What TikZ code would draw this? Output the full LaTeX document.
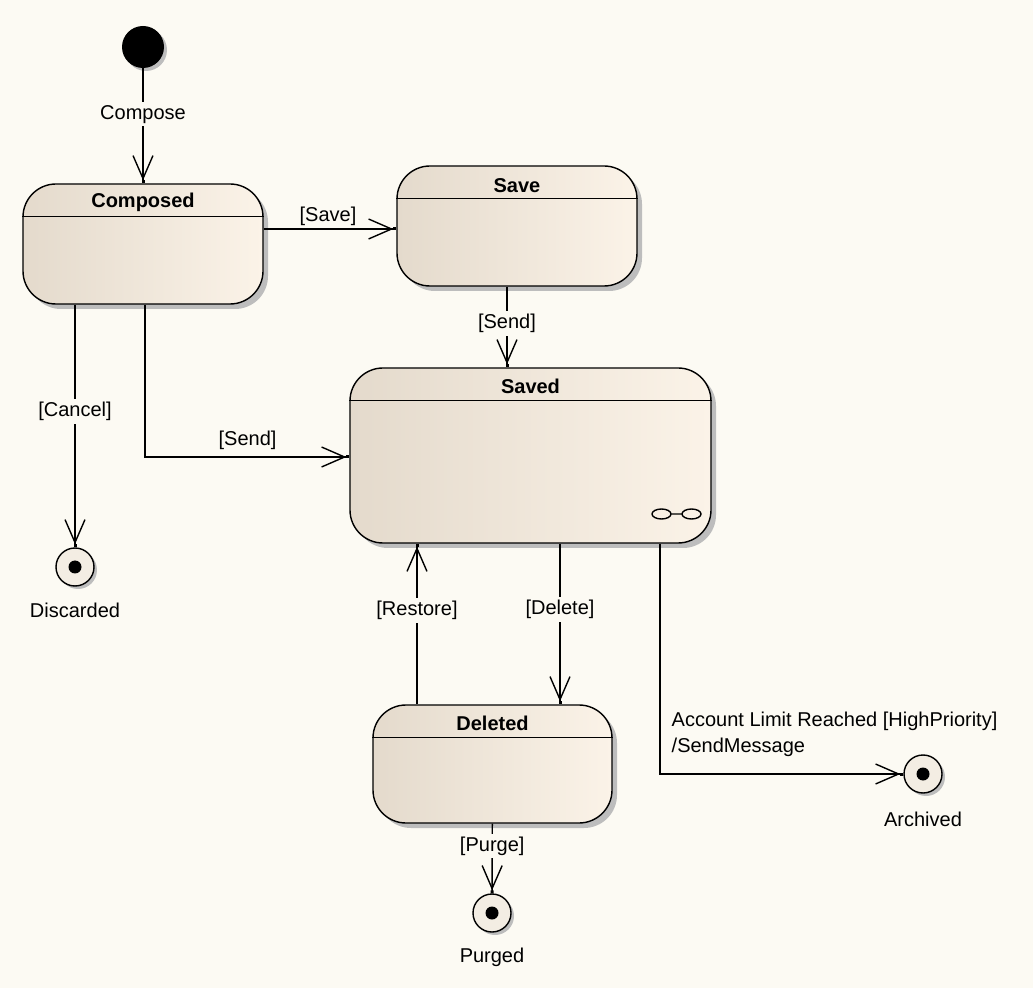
\documentclass[tikz,border=0pt]{standalone}
\usepackage{fontspec}
\setmainfont{Liberation Sans}
\usetikzlibrary{arrows.meta, shadows}
\definecolor{paper}{HTML}{FCFAF3}
\definecolor{stateleft}{HTML}{E4DACC}
\definecolor{stateright}{HTML}{FBF3E8}
\definecolor{finalfill}{HTML}{F3EDE3}
\definecolor{shadowgray}{HTML}{BDBDBD}

\begin{document}
\begin{tikzpicture}[
    x=0.5pt, y=-0.5pt,
    every node/.style={font=\fontsize{10}{13}\selectfont},
    statebox/.style={draw, line width=0.7pt, rounded corners=16.5pt, left color=stateleft, right color=stateright, minimum width=120pt, minimum height=60pt, inner sep=0pt, drop shadow={shadow xshift=2.5pt, shadow yshift=-2.5pt, fill=shadowgray, opacity=1}},
    title/.style={font=\fontsize{10}{12}\selectfont\bfseries, inner sep=0pt},
    startdot/.style={circle, fill=black, minimum size=21pt, inner sep=0pt, drop shadow={shadow xshift=1.5pt, shadow yshift=-1.5pt, fill=shadowgray, opacity=1}},
    enddot/.style={circle, draw, line width=0.7pt, fill=finalfill, minimum size=19pt, inner sep=0pt, drop shadow={shadow xshift=1.5pt, shadow yshift=-1.5pt, fill=shadowgray, opacity=1}, path picture={\fill[black] (path picture bounding box.center) circle (3.25pt);}},
    transition/.style={draw, line width=0.7pt, -{Straight Barb[length=11.5pt, width=10pt] Square[length=1.5pt, width=1.5pt]}},
    guard/.style={fill=paper, inner sep=1.5pt}
]
    \fill[paper] (0,0) rectangle (1033,988);

    \node[startdot] (start) at (143,47) {};
    \node[statebox] (composed) at (143,244) {};
    \node[statebox] (save) at (517,226) {};
    \node[statebox, minimum width=180.5pt, minimum height=87.5pt] (saved) at (530.5,455.5) {};
    \node[statebox, minimum width=119.5pt, minimum height=59pt] (deleted) at (492.5,764) {};

    \draw[line width=0.7pt] ([yshift=-16.5pt]composed.north west) -- ([yshift=-16.5pt]composed.north east);
    \draw[line width=0.7pt] ([yshift=-16.5pt]save.north west) -- ([yshift=-16.5pt]save.north east);
    \draw[line width=0.7pt] ([yshift=-16.5pt]saved.north west) -- ([yshift=-16.5pt]saved.north east);
    \draw[line width=0.7pt] ([yshift=-16.5pt]deleted.north west) -- ([yshift=-16.5pt]deleted.north east);

    \node[title] (composedtitle) at ([yshift=-9.5pt]composed.north) {Composed};
    \node[title] (savetitle) at ([yshift=-10pt]save.north) {Save};
    \node[title] (savedtitle) at ([yshift=-9.5pt]saved.north) {Saved};
    \node[title] (deletedtitle) at ([yshift=-9.5pt]deleted.north) {Deleted};

    \draw[line width=0.7pt] (661.5,514) ellipse [x radius=4.75pt, y radius=2.5pt] (671,514) -- (682,514) (691.5,514) ellipse [x radius=4.75pt, y radius=2.5pt];

    \node[enddot] (discarded) at (75,567) {};
    \node[enddot] (archived) at (923,774) {};
    \node[enddot] (purged) at (492,913) {};
    \node (discardedname) at (75,610) {Discarded};
    \node (archivedname) at (923,819) {Archived};
    \node (purgedname) at (492,957) {Purged};

    \draw[transition] (start) -- node[guard, pos=0.4] (composelabel) {Compose} (composed);
    \draw[transition] ([yshift=-1.5pt]save.west -| composed.east) -- node[pos=0.485, yshift=6.5pt] (savelabel) {[Save]} ([yshift=-1.5pt]save.west);
    \draw[transition] ([xshift=-5pt]save.south) -- node[guard, pos=0.46] (sendlabel) {[Send]} ([xshift=-5pt]save.south |- saved.north);
    \draw[transition] ([xshift=1pt]composed.south) |- node[pos=0.751, yshift=8.5pt] (directsendlabel) {[Send]} ([yshift=-0.75pt]saved.west);
    \draw[transition] ([xshift=-34pt]composed.south) -- node[guard, pos=0.44] (cancellabel) {[Cancel]} (discarded);
    \draw[transition] ([xshift=14.75pt]saved.south) -- node[guard, pos=0.41] (deletelabel) {[Delete]} ([xshift=14.75pt]saved.south |- deleted.north);
    \draw[transition] ([xshift=-37.75pt]deleted.north) -- node[guard, pos=0.586] (restorelabel) {[Restore]} ([xshift=-37.75pt]deleted.north |- saved.south);
    \draw[transition] ([xshift=64.75pt]saved.south) |- node[pos=0.5, anchor=west, align=left, inner sep=0pt, xshift=5.5pt, yshift=20pt] (limitlabel) {Account Limit Reached [HighPriority]\\/SendMessage} (archived);
    \draw[transition] (deleted) -- node[guard, pos=0.32] (purgelabel) {[Purge]} (purged);
\end{tikzpicture}
\end{document}
